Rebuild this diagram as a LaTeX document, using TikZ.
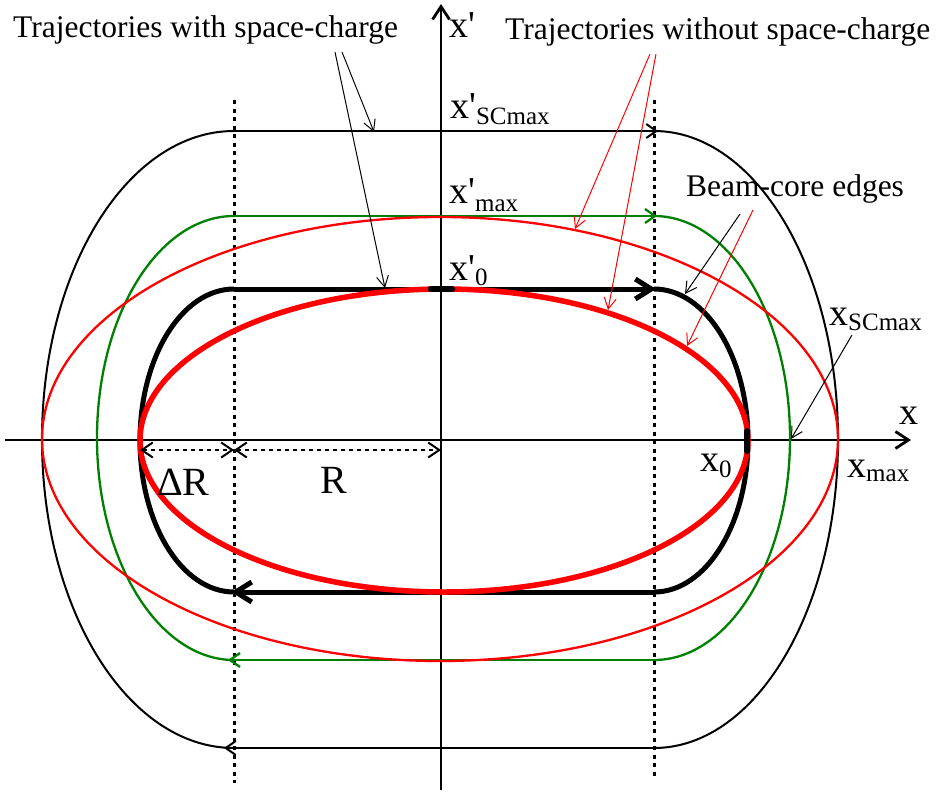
\documentclass[tikz,border=0pt]{standalone}
\usepackage{fontspec}
\setmainfont{Liberation Serif}
\usetikzlibrary{arrows.meta}
\definecolor{dgreen}{RGB}{0,128,0}
\newcommand\lsub[2][6pt]{\raisebox{-#1}{\fontsize{25}{25}\selectfont #2}}
\begin{document}
\begin{tikzpicture}[x=1pt,y=-1pt,
  lbl/.style={inner sep=0pt, anchor=base west, font=\fontsize{31.5}{31.5}\selectfont},
  sym/.style={inner sep=0pt, anchor=base west, font=\fontsize{38}{38}\selectfont},
  big/.style={inner sep=0pt, anchor=base west, font=\fontsize{40}{40}\selectfont},
  barb/.style={-{Straight Barb[length=11pt,width=12pt]}},
  thinann/.style={barb, line width=1pt},
  dotline/.style={line width=3pt, dash pattern=on 4pt off 4.5pt},
  dimline/.style={line width=2pt, dash pattern=on 4pt off 4pt},
  outerc/.style={line width=2pt, black},
  greenc/.style={line width=2.3pt, dgreen},
  redthin/.style={line width=2.3pt, red},
  core/.style={line width=5pt, black},
  redcore/.style={line width=5.5pt, red},
  axis/.style={line width=2.8pt, -{Straight Barb[length=13pt,width=17pt]}},
  thickbarb/.style={-{Straight Barb[length=16pt,width=20pt]}},
  midbarb/.style={-{Straight Barb[length=10pt,width=14pt]}},
  dimtip/.style={{Straight Barb[length=11pt,width=15pt]}-{Straight Barb[length=11pt,width=15pt]}}
]
\useasboundingbox (0,0) rectangle (937,793);

% dotted guide lines
\coordinate (gl1) at (234,100); \coordinate (gl2) at (234,783);
\coordinate (gr1) at (654,100); \coordinate (gr2) at (654,779);
\draw[dotline] (gl1) -- (gl2);
\draw[dotline] (gr1) -- (gr2);

% axes
\coordinate (xa1) at (5,440); \coordinate (xa2) at (911,440);
\coordinate (ya1) at (441,790); \coordinate (ya2) at (441,4);
\draw[axis] (xa1) -- (xa2);
\draw[axis] (ya1) -- (ya2);

% outer trajectory with space-charge
\draw[outerc] (654,131) arc[start angle=-90,end angle=90,x radius=184,y radius=308.5];
\draw[outerc] (234,748) arc[start angle=90,end angle=270,x radius=192,y radius=308.5];
\draw[outerc, midbarb] (234,131) -- (658,131);
\draw[outerc, midbarb] (654,748) -- (224,748);

% green trajectory
\draw[greenc] (654,216) arc[start angle=-90,end angle=90,x radius=136,y radius=222];
\draw[greenc] (234,660) arc[start angle=90,end angle=270,x radius=137,y radius=222];
\draw[greenc, midbarb] (234,216) -- (657,216);
\draw[greenc, midbarb] (654,660) -- (228,660);

% thin red ellipse
\draw[redthin] (440,439) ellipse [x radius=398, y radius=222];

% beam core with space-charge
\draw[core] (654,289) arc[start angle=-90,end angle=90,x radius=94,y radius=151.5];
\draw[core] (234,592) arc[start angle=90,end angle=270,x radius=94,y radius=151.5];
\draw[core, thickbarb] (234,289) -- (656,289);
\draw[core, thickbarb] (654,592) -- (231,592);

% beam core without space-charge
\draw[redcore] (444,440.5) ellipse [x radius=304, y radius=151.5];

% markers
\coordinate (m1a) at (747,431); \coordinate (m1b) at (747,451);
\coordinate (m2a) at (431,289); \coordinate (m2b) at (452,289);
\draw[line width=6pt, line cap=round] (m1a) -- (m1b);
\draw[line width=6.5pt, line cap=round] (m2a) -- (m2b);

% dimension lines
\coordinate (d1) at (140,450); \coordinate (d2) at (234,450); \coordinate (d3) at (441,450);
\draw[dimline, dimtip] (d1) -- (d2);
\draw[dimline, dimtip] (d2) -- (d3);

% labels
\node[lbl] (t1) at (13,37) {Trajectories with space-charge};
\node[lbl] (t2) at (505,39) {Trajectories without space-charge};
\node[lbl] (t3) at (686,196) {Beam-core edges};

\node[sym] (xp) at (449,37) {x\textquotesingle};
\node[sym] (xpsc) at (450,118) {x\textquotesingle\lsub{SCmax}};
\node[sym] (xpmax) at (449,203) {x\textquotesingle\lsub[8pt]{max}};
\node[sym] (xp0) at (449,280) {x\textquotesingle\lsub[5pt]{0}};
\node[sym] (xsc) at (829,325) {x\lsub[5pt]{SCmax}};
\node[sym] (xax) at (899,424) {x};
\node[sym] (x0) at (700,471) {x\lsub{0}};
\node[sym] (xmx) at (847,477) {x\lsub[4pt]{max}};
\node[big] (dR) at (157,495) {ΔR};
\node[big] (R) at (320,493) {R};

% annotation arrows
\coordinate (a1s) at (342,52); \coordinate (a1e) at (374,132);
\coordinate (a2s) at (335,52); \coordinate (a2e) at (385,288);
\draw[thinann] (a1s) -- (a1e);
\draw[thinann] (a2s) -- (a2e);
\coordinate (b1s) at (650,54); \coordinate (b1e) at (575,229);
\coordinate (b2s) at (656,54); \coordinate (b2e) at (608,310);
\draw[thinann, red] (b1s) -- (b1e);
\draw[thinann, red] (b2s) -- (b2e);
\coordinate (c1s) at (740,214); \coordinate (c1e) at (685,294);
\coordinate (c2s) at (753,210); \coordinate (c2e) at (687,346);
\draw[thinann] (c1s) -- (c1e);
\draw[thinann, red] (c2s) -- (c2e);
\coordinate (e1s) at (852,335); \coordinate (e1e) at (791,439);
\draw[thinann] (e1s) -- (e1e);
\end{tikzpicture}
\end{document}
